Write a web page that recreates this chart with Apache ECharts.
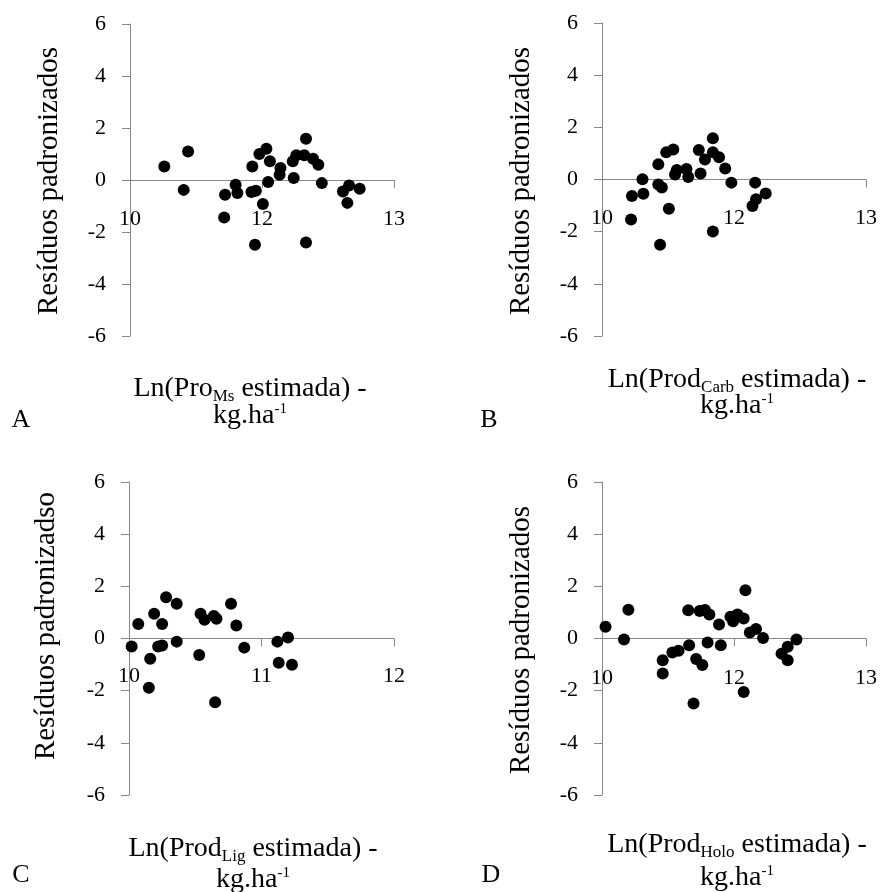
<!DOCTYPE html>
<html>
<head>
<meta charset="utf-8">
<script src="https://cdn.jsdelivr.net/npm/echarts@6/dist/echarts.min.js"></script>
<style>
html,body{margin:0;padding:0;background:#fff;}
#chart{width:882px;height:892px;}
</style>
</head>
<body>
<div id="chart"></div>
<script>
// ---- Data ----
const yTicks = [-6, -4, -2, 0, 2, 4, 6];
const xTicksABD = [10, 11.5, 13];   // shown rounded: 10, 12, 13
const xTicksC = [10, 11, 12];

const aX = [10.39,10.66,10.61,11.08,11.07,11.20,11.22,11.39,11.38,11.43,11.51,11.42,11.47,11.55,11.59,11.57,11.71,11.70,11.85,11.86,11.89,11.98,12.00,12.00,12.08,12.14,12.18,12.42,12.49,12.47,12.61];
const aY = [0.52,1.10,-0.38,-0.57,-1.44,-0.18,-0.50,0.52,-0.46,-0.41,-0.92,-2.49,1.00,1.20,0.72,-0.08,0.46,0.20,0.72,0.08,0.95,0.95,1.59,-2.40,0.82,0.59,-0.12,-0.44,-0.21,-0.88,-0.34];

const bX = [10.33,10.34,10.46,10.47,10.64,10.64,10.68,10.66,10.76,10.73,10.81,10.83,10.85,10.96,10.98,11.12,11.10,11.17,11.26,11.26,11.26,11.33,11.40,11.47,11.74,11.75,11.71,11.86];
const bY = [-1.53,-0.63,0.01,-0.55,0.58,-0.19,-0.31,-2.50,-1.12,1.04,1.15,0.19,0.36,0.40,0.10,0.23,1.13,0.77,1.58,-1.99,1.04,0.85,0.42,-0.12,-0.12,-0.76,-1.02,-0.54];

const cX = [10.02,10.07,10.16,10.15,10.19,10.25,10.22,10.25,10.28,10.36,10.36,10.53,10.54,10.57,10.64,10.66,10.65,10.77,10.81,10.87,11.12,11.20,11.13,11.23];
const cY = [-0.31,0.56,-0.78,-1.89,0.95,0.56,-0.31,-0.27,1.58,1.33,-0.12,-0.63,0.95,0.72,0.86,0.76,-2.44,1.33,0.50,-0.35,-0.12,0.04,-0.93,-1.01];

const dX = [10.04,10.25,10.30,10.69,10.69,10.80,10.87,10.98,10.99,11.07,11.14,11.04,11.11,11.17,11.22,11.20,11.33,11.35,11.46,11.49,11.54,11.61,11.63,11.61,11.68,11.75,11.83,12.04,12.11,12.11,12.21];
const dY = [0.45,-0.04,1.10,-0.83,-1.34,-0.54,-0.47,1.08,-0.26,-0.79,-1.02,-2.49,1.05,1.09,0.92,-0.15,0.54,-0.26,0.83,0.66,0.92,0.77,1.85,-2.05,0.23,0.36,0.02,-0.58,-0.32,-0.83,-0.04];

const yTitles = ['Resíduos padronizados','Resíduos padronizados','Resíduos padronizadso','Resíduos padronizados'];
const xSubs = [['Pro','Ms'],['Prod','Carb'],['Prod','Lig'],['Prod','Holo']];
const panelLetters = ['A','B','C','D'];

// ---- Layout ----
const FONT = '"Liberation Serif", "Times New Roman", serif';
const grids = [
  {left:130, top:24, width:264, height:312},
  {left:602, top:23, width:264, height:313},
  {left:129, top:482, width:265, height:313},
  {left:602, top:482, width:264, height:313}
];
const xRanges = [
  {min:10,max:13,interval:1.5},
  {min:10,max:13,interval:1.5},
  {min:10,max:12,interval:1},
  {min:10,max:13,interval:1.5}
];
const xLabelMargins = [-128, -129, -130, -128];
const seriesData = [
  aX.map((x,i)=>[x,aY[i]]),
  bX.map((x,i)=>[x,bY[i]]),
  cX.map((x,i)=>[x,cY[i]]),
  dX.map((x,i)=>[x,dY[i]])
];

const axisColor = '#888888';

const xAxes = grids.map((g,i)=>({
  gridIndex:i, type:'value',
  min:xRanges[i].min, max:xRanges[i].max, interval:xRanges[i].interval,
  axisLine:{show:true, onZero:true, lineStyle:{color:axisColor,width:1}},
  axisTick:{show:true, inside:false, length:8, lineStyle:{color:axisColor}},
  splitLine:{show:false},
  axisLabel:{show:true, margin:xLabelMargins[i], color:'#000', fontFamily:FONT, fontSize:22,
    showMinLabel:true, showMaxLabel:true,
    formatter:v=>String(Math.round(v))}
}));
const yAxes = grids.map((g,i)=>({
  gridIndex:i, type:'value', min:-6, max:6, interval:2,
  axisLine:{show:true, onZero:false, lineStyle:{color:axisColor,width:1}},
  axisTick:{show:true, inside:false, length:8, lineStyle:{color:axisColor}},
  splitLine:{show:false},
  axisLabel:{show:true, margin:24, color:'#000', fontFamily:FONT, fontSize:22,
    formatter:v=> yTicks.indexOf(v)>=0 ? String(v) : ''}
}));

const series = seriesData.map((d,i)=>({
  type:'scatter', xAxisIndex:i, yAxisIndex:i, data:d,
  symbol:'circle', symbolSize:12,
  itemStyle:{color:'#000', opacity:1}, silent:true, z:3
}));

// titles
const yTitlePos = [[49,181],[521,181],[46,626],[521,640]];
const xLine1Pos = [[250,388],[737,379],[253,848],[737,844]];
const xLine2Pos = [[250,415],[737,405],[253,879],[737,877]];
const letterPos = [[21,420],[489,420],[21,875],[491,875]];

const richBase = {
  m:{fontFamily:FONT,fontSize:28,color:'#000',lineHeight:30,verticalAlign:'bottom'},
  s:{fontFamily:FONT,fontSize:17,color:'#000',lineHeight:30,verticalAlign:'bottom',padding:[0,0,-2,0]},
  u:{fontFamily:FONT,fontSize:15,color:'#000',lineHeight:30,verticalAlign:'top',padding:[2,0,0,0]}
};

const graphics = [];
for (let i=0;i<4;i++){
  graphics.push({type:'text', x:yTitlePos[i][0], y:yTitlePos[i][1], rotation:Math.PI/2,
    style:{text:yTitles[i], fontFamily:FONT, fontSize:29, fill:'#000', align:'center', verticalAlign:'middle'}});
  graphics.push({type:'text', x:xLine1Pos[i][0], y:xLine1Pos[i][1],
    style:{text:'{m|Ln('+xSubs[i][0]+'}{s|'+xSubs[i][1]+'}{m| estimada) -}', rich:richBase,
      align:'center', verticalAlign:'middle'}});
  graphics.push({type:'text', x:xLine2Pos[i][0], y:xLine2Pos[i][1],
    style:{text:'{m|kg.ha}{u|-1}', rich:richBase, align:'center', verticalAlign:'middle'}});
  graphics.push({type:'text', x:letterPos[i][0], y:letterPos[i][1],
    style:{text:panelLetters[i], fontFamily:FONT, fontSize:26, fill:'#000', align:'center', verticalAlign:'middle'}});
}

const chart = echarts.init(document.getElementById('chart'), null, {renderer:'canvas'});
chart.setOption({
  animation:false,
  backgroundColor:'#fff',
  grid:grids,
  xAxis:xAxes,
  yAxis:yAxes,
  series:series,
  graphic:graphics
});
</script>
</body>
</html>
